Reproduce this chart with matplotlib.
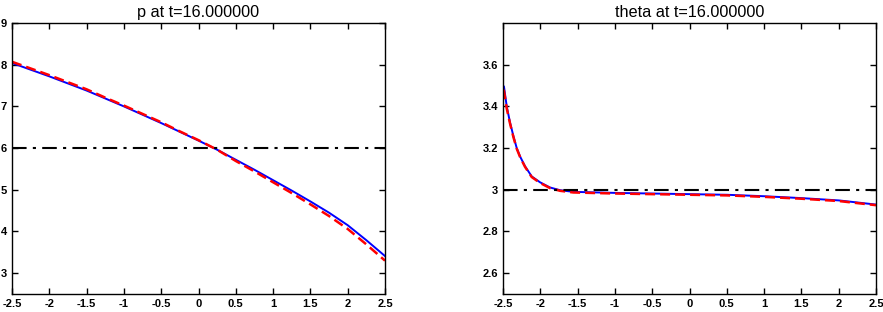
import matplotlib
matplotlib.use("Agg")
import matplotlib.pyplot as plt

plt.rcParams['font.family'] = ['Liberation Sans', 'DejaVu Sans']

# values
p_x = [-2.5, -2.25, -2.0, -1.75, -1.5, -1.25, -1.0, -0.75, -0.5, -0.25, 0.0,
       0.25, 0.5, 0.75, 1.0, 1.25, 1.5, 1.75, 2.0, 2.25, 2.5]
p_exact = [8.04, 7.88, 7.72, 7.55, 7.38, 7.19, 7.00, 6.80, 6.60, 6.39, 6.18,
           5.96, 5.72, 5.48, 5.23, 4.98, 4.72, 4.45, 4.15, 3.79, 3.41]
p_num = [8.07, 7.91, 7.75, 7.58, 7.41, 7.21, 7.02, 6.82, 6.62, 6.40, 6.19,
         5.96, 5.69, 5.44, 5.18, 4.92, 4.65, 4.37, 4.06, 3.69, 3.30]
p_ref = 6.0

th_x = [-2.5, -2.487, -2.45, -2.406, -2.36, -2.316, -2.27, -2.205, -2.115,
        -2.004, -1.87, -1.736, -1.558, -1.0, -0.5, 0.0, 0.5, 1.0, 1.5, 2.0, 2.5]
th_exact = [3.50, 3.495, 3.40, 3.323, 3.257, 3.20, 3.159, 3.113, 3.064,
            3.036, 3.011, 2.998, 2.990, 2.985, 2.982, 2.979, 2.976, 2.969,
            2.960, 2.949, 2.929]
th_num = [3.48, 3.475, 3.39, 3.318, 3.252, 3.197, 3.156, 3.110, 3.061,
          3.033, 3.008, 2.995, 2.987, 2.982, 2.979, 2.976, 2.973, 2.966,
          2.957, 2.946, 2.926]
th_ref = 3.0

x_ticks = [-2.5, -2, -1.5, -1, -0.5, 0, 0.5, 1, 1.5, 2, 2.5]
x_labels = ['-2.5', '-2', '-1.5', '-1', '-0.5', '0', '0.5', '1', '1.5', '2', '2.5']


def panel(ax, x, ye, yn, ref, title, ylim, yticks, ylabels):
    ax.plot(x, ye, color='blue', lw=1.4)
    ax.plot(x, yn, color='red', lw=1.8, dashes=(4, 2))
    ax.axhline(ref, color='black', lw=1.5, dashes=(7, 3, 1.5, 3))
    ax.set_xlim(-2.5, 2.5)
    ax.set_ylim(*ylim)
    ax.set_xticks(x_ticks)
    ax.set_xticklabels(x_labels)
    ax.set_yticks(yticks)
    ax.set_yticklabels(ylabels)
    ax.tick_params(direction='in', length=4, width=1, top=True, right=True,
                   labelsize=8, pad=3.5)
    for lab in ax.get_xticklabels() + ax.get_yticklabels():
        lab.set_fontweight('bold')
    for s in ax.spines.values():
        s.set_linewidth(1)
    ax.set_title(title, fontsize=11.7, pad=4)


fig = plt.figure(figsize=(8.83, 3.12), dpi=100)
ax1 = fig.add_axes([12 / 883, 18 / 312, 373 / 883, 271 / 312])
ax2 = fig.add_axes([503 / 883, 18 / 312, 373 / 883, 271 / 312])

panel(ax1, p_x, p_exact, p_num, p_ref, 'p at t=16.000000', (2.5, 9),
      [3, 4, 5, 6, 7, 8, 9], ['3', '4', '5', '6', '7', '8', '9'])
panel(ax2, th_x, th_exact, th_num, th_ref, 'theta at t=16.000000', (2.5, 3.8),
      [2.6, 2.8, 3.0, 3.2, 3.4, 3.6], ['2.6', '2.8', '3', '3.2', '3.4', '3.6'])

fig.savefig('out.png', dpi=100)
